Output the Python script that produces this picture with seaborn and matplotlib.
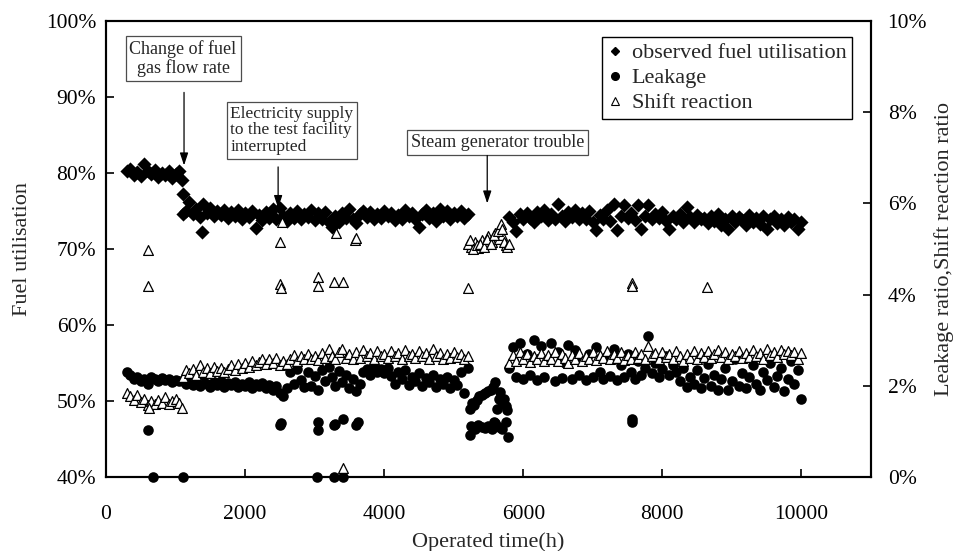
import numpy as np
import pandas as pd
import matplotlib
matplotlib.use("Agg")
import matplotlib.pyplot as plt
from matplotlib.lines import Line2D
from matplotlib.ticker import FuncFormatter
import seaborn as sns

nan = np.nan

# Logged operating hours (h)
hours = [
    300, 350, 400, 450, 500, 550, 600, 650, 700, 750,
    800, 850, 900, 950, 1000, 1050, 1100, 1150, 1200, 1250,
    1300, 1350, 1400, 1450, 1500, 1550, 1600, 1650, 1700, 1750,
    1800, 1850, 1900, 1950, 2000, 2050, 2100, 2150, 2200, 2250,
    2300, 2350, 2400, 2450, 2500, 2550, 2600, 2650, 2700, 2750,
    2800, 2850, 2900, 2950, 3000, 3050, 3100, 3150, 3200, 3250,
    3300, 3350, 3400, 3450, 3500, 3550, 3600, 3650, 3700, 3750,
    3800, 3850, 3900, 3950, 4000, 4050, 4100, 4150, 4200, 4250,
    4300, 4350, 4400, 4450, 4500, 4550, 4600, 4650, 4700, 4750,
    4800, 4850, 4900, 4950, 5000, 5050, 5100, 5150, 5200, 5250,
    5300, 5350, 5400, 5450, 5500, 5550, 5600, 5650, 5700, 5750,
    5800, 5850, 5900, 5950, 6000, 6050, 6100, 6150, 6200, 6250,
    6300, 6350, 6400, 6450, 6500, 6550, 6600, 6650, 6700, 6750,
    6800, 6850, 6900, 6950, 7000, 7050, 7100, 7150, 7200, 7250,
    7300, 7350, 7400, 7450, 7500, 7550, 7600, 7650, 7700, 7750,
    7800, 7850, 7900, 7950, 8000, 8050, 8100, 8150, 8200, 8250,
    8300, 8350, 8400, 8450, 8500, 8550, 8600, 8650, 8700, 8750,
    8800, 8850, 8900, 8950, 9000, 9050, 9100, 9150, 9200, 9250,
    9300, 9350, 9400, 9450, 9500, 9550, 9600, 9650, 9700, 9750,
    9800, 9850, 9900, 9950, 10000,
]

# Observed fuel utilisation (%), left axis
fuel_util = [
    80.2, 80.5, 79.8, 80.1, 79.6, 81.2, 80.3, 79.9, 80.4, 79.5,
    80.0, 79.7, 80.2, 79.4, 79.9, 80.3, 77.2, 75.0, 76.2, 74.6,
    75.3, 74.2, 75.9, 74.8, 75.4, 74.3, 75.0, 74.5, 75.2, 74.1,
    74.9, 74.4, 75.1, 73.9, 74.7, 74.2, 75.0, 72.8, 74.5, 73.8,
    74.9, 74.1, 75.3, 74.0, 75.4, 74.3, 73.7, 74.8, 74.1, 75.0,
    73.9, 74.6, 74.2, 75.1, 73.8, 74.7, 74.0, 74.9, 73.6, 72.9,
    74.4, 73.5, 74.8, 74.1, 75.3, 74.0, 73.4, 74.6, 75.0, 74.2,
    74.9, 73.9, 74.6, 74.1, 75.0, 74.3, 74.8, 73.8, 74.5, 74.0,
    75.1, 74.3, 74.7, 73.9, 72.9, 74.6, 75.2, 74.1, 74.8, 73.7,
    75.3, 74.4, 75.0, 74.0, 74.8, 74.3, 75.0, 74.1, 74.6, nan,
    nan, nan, nan, nan, nan, nan, nan, nan, nan, nan,
    74.2, 73.5, 72.4, 74.6, 73.9, 74.8, 74.1, 73.6, 74.9, 74.3,
    75.2, 73.8, 74.6, 74.0, 75.9, 74.4, 73.7, 74.9, 74.2, 75.1,
    73.9, 74.7, 74.0, 75.0, 73.6, 72.5, 74.5, 74.0, 75.2, 73.7,
    75.9, 72.5, 74.3, 75.8, 74.1, 74.8, 73.8, 75.8, 72.6, 74.4,
    75.8, 73.9, 74.6, 74.1, 74.9, 73.7, 72.6, 74.3, 73.9, 74.6,
    73.5, 75.5, 74.2, 73.6, 74.5, 73.9, 74.1, 73.4, 74.3, 73.7,
    74.6, 73.2, 74.0, 72.6, 74.4, 73.5, 74.2, 73.8, 73.1, 74.5,
    73.6, 74.1, 73.3, 74.4, 72.7, 73.9, 74.3, 73.4, 74.0, 73.2,
    74.2, 73.6, 74.0, 72.6, 73.5,
]

# Leakage ratio (%), right axis
leakage = [
    2.30, 2.25, 2.15, 2.20, 2.10, 2.15, 2.05, 2.20, 2.15, 2.10,
    2.18, 2.12, 2.15, 2.08, 2.12, 2.10, 2.10, 2.05, 2.12, 2.02,
    2.08, 2.00, 2.10, 2.04, 1.98, 2.08, 2.02, 2.10, 1.97, 2.06,
    2.01, 2.09, 1.98, 2.05, 2.00, 2.08, 1.96, 2.04, 1.99, 2.06,
    1.95, 2.02, 1.92, 2.00, 1.85, 1.78, 1.95, 2.30, 2.05, 2.38,
    2.12, 1.98, 2.30, 2.00, 2.22, 1.92, 2.35, 2.10, 2.42, 2.20,
    2.00, 2.32, 2.08, 2.25, 1.95, 2.15, 1.88, 2.05, 2.30, 2.38,
    2.25, 2.40, 2.30, 2.36, 2.28, 2.40, 2.22, 2.05, 2.30, 2.15,
    2.35, 2.02, 2.20, 2.10, 2.28, 2.00, 2.18, 2.08, 2.25, 1.98,
    2.15, 2.05, 2.20, 1.95, 2.12, 2.02, 2.30, 1.85, 2.40, 1.12,
    1.05, 1.15, 1.10, 1.08, 1.13, 1.06, 1.18, 1.10, 1.05, 1.20,
    2.40, 2.85, 2.20, 2.95, 2.15, 2.70, 2.25, 3.00, 2.12, 2.88,
    2.20, 2.60, 2.95, 2.10, 2.75, 2.18, 2.50, 2.90, 2.15, 2.78,
    2.25, 2.55, 2.12, 2.70, 2.20, 2.85, 2.30, 2.15, 2.62, 2.22,
    2.80, 2.12, 2.45, 2.20, 2.70, 2.30, 2.15, 2.55, 2.25, 2.40,
    3.10, 2.28, 2.50, 2.20, 2.38, 2.65, 2.25, 2.45, 2.30, 2.10,
    2.40, 1.98, 2.20, 2.05, 2.35, 1.95, 2.18, 2.48, 2.00, 2.25,
    1.92, 2.15, 2.40, 1.90, 2.10, 2.60, 2.00, 2.28, 1.95, 2.20,
    2.45, 2.05, 1.90, 2.30, 2.12, 2.50, 1.98, 2.22, 2.40, 1.88,
    2.15, 2.55, 2.05, 2.35, 1.72,
]

# Shift reaction ratio (%), right axis
shift_ratio = [
    1.85, 1.78, 1.70, 1.80, 1.65, 1.72, 1.58, 1.66, 1.60, 1.70,
    1.62, 1.75, 1.60, 1.68, 1.72, 1.62, 2.20, 2.35, 2.28, 2.38,
    2.25, 2.45, 2.30, 2.40, 2.28, 2.42, 2.32, 2.40, 2.30, 2.38,
    2.45, 2.35, 2.48, 2.40, 2.50, 2.42, 2.55, 2.45, 2.52, 2.60,
    2.48, 2.58, 2.50, 2.62, 2.45, 2.55, 2.48, 2.60, 2.68, 2.55,
    2.65, 2.58, 2.70, 2.60, 2.66, 2.56, 2.72, 2.62, 2.80, 2.65,
    2.58, 2.75, 2.82, 2.62, 2.70, 2.58, 2.74, 2.62, 2.78, 2.66,
    2.72, 2.60, 2.76, 2.65, 2.70, 2.62, 2.76, 2.66, 2.72, 2.60,
    2.78, 2.65, 2.70, 2.62, 2.76, 2.66, 2.72, 2.60, 2.80, 2.66,
    2.72, 2.60, 2.70, 2.62, 2.74, 2.64, 2.70, 2.60, 2.66, 5.05,
    5.15, 5.02, 5.20, 5.10, 5.28, 5.15, 5.35, 5.22, 5.30, 5.08,
    2.50, 2.68, 2.55, 2.75, 2.60, 2.70, 2.52, 2.66, 2.58, 2.72,
    2.55, 2.68, 2.60, 2.75, 2.55, 2.70, 2.62, 2.50, 2.68, 2.58,
    2.72, 2.55, 2.66, 2.60, 2.74, 2.56, 2.68, 2.62, 2.76, 2.58,
    2.70, 2.62, 2.74, 2.56, 2.68, 2.60, 2.75, 2.62, 2.70, 2.58,
    2.88, 2.66, 2.72, 2.60, 2.74, 2.64, 2.70, 2.58, 2.76, 2.66,
    2.55, 2.70, 2.62, 2.76, 2.58, 2.72, 2.64, 2.76, 2.62, 2.70,
    2.78, 2.64, 2.74, 2.60, 2.70, 2.66, 2.76, 2.62, 2.72, 2.64,
    2.78, 2.66, 2.72, 2.60, 2.80, 2.68, 2.74, 2.64, 2.78, 2.70,
    2.76, 2.68, 2.74, 2.60, 2.72,
]

# Additional readings logged between the regular samples
fuel_extra_hours = [1090, 1110, 1380]
fuel_extra_values = [79.1, 74.6, 72.2]

leak_extra_hours = [5230, 5260, 5290, 5330, 5370, 5410, 5450, 5490, 5530, 5570,
                    5600, 5620, 5650, 5670, 5700, 5720, 5750, 5770, 5230, 5575,
                    5785, 604, 2504, 2515, 3050, 3050, 3280, 3300, 3410, 3600,
                    3620, 7568, 7568, 676, 1108, 3036, 3280, 3410]
leak_extra_values = [1.50, 1.62, 1.58, 1.70, 1.78, 1.80, 1.85, 1.88, 1.90, 1.98,
                     2.09, 1.50, 1.72, 1.87, 1.65, 1.72, 1.55, 1.48, 0.92, 1.20,
                     0.88, 1.03, 1.15, 1.18, 1.21, 1.03, 1.15, 1.17, 1.28, 1.15,
                     1.20, 1.28, 1.22, 0.0, 0.0, 0.0, 0.0, 0.0]

shift_extra_hours = [5200, 5230, 5280, 5330, 5380, 5430, 5480, 5530, 5580, 5630,
                     5680, 5700, 5730, 5760, 5790, 604, 604, 2504, 2504, 2518,
                     2530, 3050, 3050, 3280, 3310, 3410, 3410, 3580, 3600, 5209,
                     7568, 7568, 8647, 620, 1090]
shift_extra_values = [5.10, 5.20, 5.00, 5.08, 5.12, 5.05, 5.22, 5.10, 5.30, 5.40,
                      5.55, 5.45, 5.15, 5.05, 5.10, 4.97, 4.18, 5.15, 4.23, 4.14,
                      5.60, 4.38, 4.18, 4.27, 5.35, 4.27, 0.20, 5.20, 5.25, 4.14,
                      4.25, 4.18, 4.16, 1.52, 1.52]

labels = ["observed fuel utilisation", "Leakage", "Shift reaction"]

# ---------------------------------------------------------------- tables
fuel_df = pd.DataFrame({"hours": hours + fuel_extra_hours,
                        "value": fuel_util + fuel_extra_values}).dropna()
leak_df = pd.DataFrame({"hours": hours + leak_extra_hours,
                        "value": leakage + leak_extra_values}).dropna()
shift_df = pd.DataFrame({"hours": hours + shift_extra_hours,
                         "value": shift_ratio + shift_extra_values}).dropna()

# ---------------------------------------------------------------- style
sns.set_style("white")
plt.rcParams["font.family"] = ["Liberation Serif", "DejaVu Serif"]
plt.rcParams["axes.linewidth"] = 1.5

fig = plt.figure(figsize=(9.55, 5.51), dpi=100)
ax = fig.add_axes([0.111, 0.134, 0.801, 0.828])
ax2 = ax.twinx()

sns.scatterplot(data=fuel_df, x="hours", y="value", ax=ax, marker="D", s=52,
                color="black", linewidth=0, legend=False, zorder=3)
sns.scatterplot(data=leak_df, x="hours", y="value", ax=ax2, marker="o", s=58,
                color="black", linewidth=0, legend=False, clip_on=False, zorder=3)
sns.scatterplot(data=shift_df, x="hours", y="value", ax=ax2, marker="^", s=50,
                color="white", edgecolor="black", linewidth=0.9, legend=False,
                zorder=4)

ax.set_xlim(0, 11000)
ax.set_ylim(40, 100)
ax2.set_ylim(0, 10)
ax.set_xticks([0, 2000, 4000, 6000, 8000, 10000])
ax.set_yticks([40, 50, 60, 70, 80, 90, 100])
ax2.set_yticks([0, 2, 4, 6, 8, 10])
pct = FuncFormatter(lambda v, _: f"{v:.0f}%")
ax.yaxis.set_major_formatter(pct)
ax2.yaxis.set_major_formatter(pct)

for a in (ax, ax2):
    for sp in a.spines.values():
        sp.set_color("black")
        sp.set_linewidth(1.5)
ax.tick_params(axis="x", direction="in", length=6, width=1.2, labelsize=15.5,
               pad=20, colors="black", top=False, bottom=True)
ax.tick_params(axis="y", direction="in", length=6, width=1.2, labelsize=15.5,
               pad=7, colors="black", left=True, right=False)
ax2.tick_params(axis="y", direction="in", length=6, width=1.2, labelsize=15.5,
                pad=12, colors="black", right=True, left=False)

ax.set_xlabel("Operated time(h)", fontsize=16, labelpad=6)
ax.set_ylabel("Fuel utilisation", fontsize=16, labelpad=10)
ax2.set_ylabel("Leakage ratio,Shift reaction ratio", fontsize=16, labelpad=5)

# ---------------------------------------------------------------- notes
box = dict(boxstyle="square,pad=0.22", fc="white", ec="0.3", lw=0.9)
arrow = dict(arrowstyle="-|>,head_length=0.75,head_width=0.25", color="black",
             lw=0.9, shrinkA=0, shrinkB=0)

ax.text(1108, 95.1, "Change of fuel\ngas flow rate", ha="center", va="center",
        fontsize=13, bbox=box, linespacing=1.1, zorder=6)
ax.annotate("", xy=(1122, 81.0), xytext=(1122, 90.6), arrowprops=arrow, zorder=6)

ax.text(1790, 85.6, "Electricity supply\nto the test facility\ninterrupted",
        ha="left", va="center", fontsize=12.5, bbox=box, linespacing=1.05,
        zorder=6)
ax.annotate("", xy=(2475, 75.4), xytext=(2475, 80.8), arrowprops=arrow, zorder=6)

ax.text(5633, 84.0, "Steam generator trouble", ha="center", va="center",
        fontsize=13, bbox=box, zorder=6)
ax.annotate("", xy=(5482, 76.0), xytext=(5482, 82.3), arrowprops=arrow, zorder=6)

handles = [
    Line2D([], [], ls="none", marker="D", markersize=4.5, color="black"),
    Line2D([], [], ls="none", marker="o", markersize=5.5, color="black"),
    Line2D([], [], ls="none", marker="^", markersize=5.5, markerfacecolor="white",
           markeredgecolor="black", markeredgewidth=0.8),
]
leg = ax2.legend(handles, labels, loc="upper right", bbox_to_anchor=(0.975, 0.964),
                 borderaxespad=0, fontsize=16, frameon=True, fancybox=False,
                 edgecolor="black", framealpha=1, handlelength=0.7,
                 handletextpad=0.4, labelspacing=0.2, borderpad=0.25)
leg.get_frame().set_linewidth(1.0)
leg.set_zorder(10)

fig.savefig("out.png", dpi=100)
